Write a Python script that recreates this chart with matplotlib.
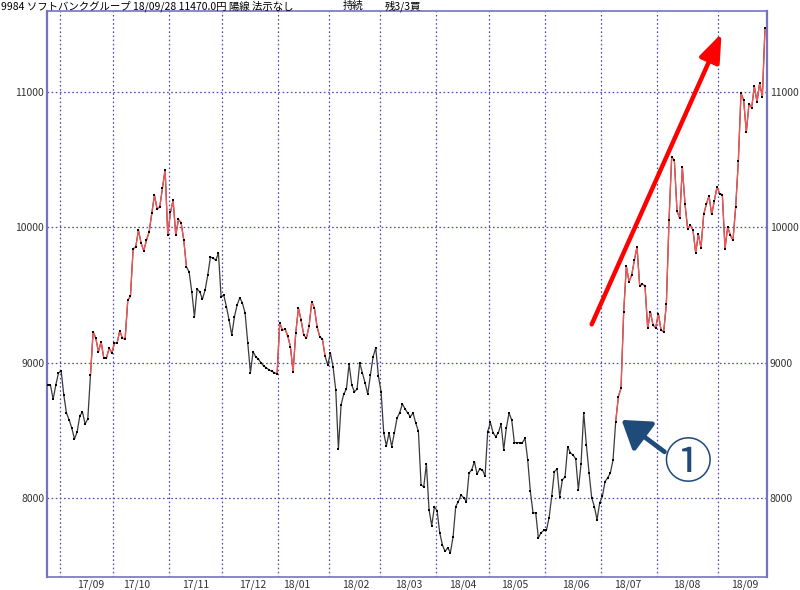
import numpy as np
import matplotlib
matplotlib.use("Agg")
import matplotlib.pyplot as plt

plt.rcParams['font.family'] = ['Noto Sans CJK JP', 'DejaVu Sans']

# daily closes, 2017/08 end .. 2018/09/28 (one value per trading day)
close = [
    8834, 8834, 8728, 8834, 8922, 8940, 8760, 8627, 8576, 8516, 8435, 8487, 8605, 8635, 8546, 8583,
    8908, 9227, 9180, 9080, 9153, 9033, 9033, 9107, 9070, 9144, 9144, 9235, 9180, 9173, 9461, 9490,
    9838, 9855, 9978, 9882, 9825, 9904, 9965, 10103, 10236, 10133, 10150, 10290, 10426, 9941, 10110,
    10199, 9941, 10057, 10033, 9904, 9707,
    9670, 9523, 9338, 9542, 9523, 9468, 9535, 9646, 9779, 9771, 9756, 9808, 9486, 9498, 9412, 9313,
    9203, 9338, 9424, 9478, 9439, 9365, 9144, 8925, 9080, 9041, 9026, 8996, 8975, 8960, 8945, 8935,
    8925, 8915,
    9294, 9240, 9247, 9196, 9117, 8932, 9218, 9402, 9313, 9203, 9180, 9269, 9449, 9402, 9264, 9190,
    9173, 9048,
    8982, 9070, 8967, 8797, 8362, 8686, 8767, 8804, 8989, 8834, 8784, 8804, 8996, 8922, 8849, 8767,
    8908, 9041, 9109, 8900, 8784, 8480, 8384, 8480, 8379, 8482, 8590, 8630, 8694, 8657, 8627, 8600,
    8627, 8553, 8494, 8096, 8081, 8251, 7911, 7795, 7934, 7906, 7742, 7653, 7604, 7631, 7596, 7712,
    7936, 7973, 8022, 8000, 7973, 8184, 8207, 8268, 8177, 8214, 8207, 8162, 8490, 8557, 8482, 8452,
    8482, 8546, 8354, 8519, 8627, 8576, 8408, 8408, 8408, 8408, 8440, 8280, 8047, 7889, 7889, 7705,
    7742, 7759, 7759, 7852, 8010, 8194, 8214, 8007, 8133, 8155, 8379, 8332, 8317, 8288, 8059, 8251,
    8630, 8391, 8187, 8000, 7936, 7838, 7963, 8010, 8120, 8148, 8184, 8280, 8563,
    8747, 8812, 9375, 9712, 9596, 9646, 9756, 9855, 9565, 9580, 9565, 9252, 9375, 9277, 9257, 9362,
    9240, 9227, 9432, 10052, 10519, 10494, 10118, 10069, 10443, 10170, 9985, 10015, 9978, 9811, 9948,
    9847, 10094, 10170, 10231, 10094, 10194, 10297, 10248, 10240, 9842, 10002, 9941, 9904, 10150,
    10489, 10991, 10937, 10703, 10912, 10882, 11042, 10924, 11065, 10962, 11470,
]
# index ranges drawn in red (signal periods)
red_spans = [(16, 52), (86, 104), (213, 269)]
# first trading-day index of each month, and mid-month label index
month_start = [5, 25, 46, 66, 87, 106, 125, 146, 166, 187, 208, 229, 252]
month_mid = [16, 33.5, 55.5, 77, 93.5, 115.5, 135.5, 155.5, 175, 198, 217.5, 239.5, 261.5]
month_labels = ['17/09', '17/10', '17/11', '17/12', '18/01', '18/02', '18/03',
                '18/04', '18/05', '18/06', '18/07', '18/08', '18/09']
price_ticks = [8000, 9000, 10000, 11000]

title = "9984 ソフトバンクグループ 18/09/28 11470.0円 陽線 法示なし"

# annotation anchors (index, price)
trend_tail, trend_head = (204.0, 9282), (252.7, 11432)
mark_tail, mark_head = (231.3, 8340), (215.2, 8576)
mark_pos = (239.9, 8251)

x = np.arange(len(close))
y = np.array(close, dtype=float)

fig = plt.figure(figsize=(8, 5.9), dpi=100)
ax = fig.add_axes([0.05875, 0.022, 0.9, 0.9595])

frame = '#7474bc'
grid = '#4a4ab0'

for v in price_ticks:
    ax.axhline(v, color=grid, lw=0.9, ls=(0, (1.3, 2.0)), zorder=1)
for m in month_start:
    ax.axvline(m - 0.5, color=grid, lw=0.9, ls=(0, (1.3, 2.0)), zorder=1)

# black base line, red spans on top
ax.plot(x, y, color='#3a3a3a', lw=0.9, zorder=2)
for a, b in red_spans:
    ax.plot(x[a:b + 1], y[a:b + 1], color='#ff5252', lw=0.9, zorder=3)
ax.plot(x, y, ls='none', marker='s', ms=1.5, color='black', mew=0, zorder=4)

ax.annotate('', xy=trend_head, xytext=trend_tail,
            arrowprops=dict(arrowstyle='-|>,head_length=0.85,head_width=0.32', color='#ff0000',
                            lw=3.2, mutation_scale=20, shrinkA=0, shrinkB=0), zorder=5)
ax.annotate('', xy=mark_head, xytext=mark_tail,
            arrowprops=dict(arrowstyle='-|>,head_length=0.75,head_width=0.5', color='#1f4b7a',
                            lw=3.4, mutation_scale=22, shrinkA=0, shrinkB=0), zorder=5)
ax.text(mark_pos[0], mark_pos[1], '①', fontsize=35, color='#1f4b7a',
        ha='center', va='center', zorder=5)

ax.set_xlim(-0.3, len(close) - 1 + 0.75)
ax.set_ylim(7415, 11598)

ax.set_yticks(price_ticks)
ax.set_yticklabels([str(v) for v in price_ticks])
ax.tick_params(axis='y', length=0, pad=2, labelsize=7.5, labelcolor='#333333',
               left=True, right=True, labelleft=True, labelright=True)
ax.set_xticks(month_mid)
ax.set_xticklabels(month_labels)
ax.tick_params(axis='x', length=0, pad=1.5, labelsize=7.5, labelcolor='#333333')

for side in ['left', 'right']:
    ax.spines[side].set_color(frame)
    ax.spines[side].set_linewidth(1.6)
for side in ['top', 'bottom']:
    ax.spines[side].set_color(frame)
    ax.spines[side].set_linewidth(1.2)

fig.text(0.001, 0.9895, title, fontsize=7.5, ha='left', va='center')
fig.text(0.429, 0.9895, '持続', fontsize=7.5, ha='left', va='center')
fig.text(0.481, 0.9895, '残3/3買', fontsize=7.5, ha='left', va='center')

fig.savefig('out.png', dpi=100)
